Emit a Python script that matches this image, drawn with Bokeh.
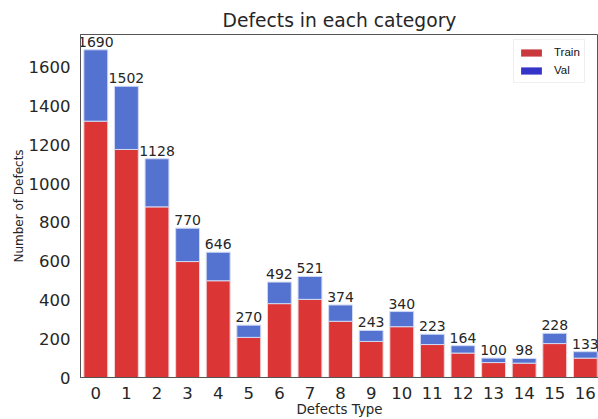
from bokeh.plotting import figure
from bokeh.models import ColumnDataSource, Legend, LegendItem, Range1d, FixedTicker
from bokeh.embed import file_html
from bokeh.resources import INLINE

categories = list(range(17))
totals = [1690, 1502, 1128, 770, 646, 270, 492, 521, 374, 243, 340, 223, 164, 100, 98, 228, 133]
train = [1322, 1176, 880, 598, 499, 207, 381, 403, 290, 186, 262, 170, 126, 77, 74, 175, 100]
val = [t - r for t, r in zip(totals, train)]
y_ticks = [0, 200, 400, 600, 800, 1000, 1200, 1400, 1600]

FONT = "DejaVu Sans"

src = ColumnDataSource(dict(x=categories, train=train, val=val, total=totals,
                            label=[str(t) for t in totals]))

p = figure(width=598, height=419, output_backend="svg", toolbar_location=None,
           x_range=Range1d(-0.5, 16.43), y_range=Range1d(0, 1769),
           min_border_left=80, min_border_right=0, min_border_top=34, min_border_bottom=41)

p.vbar(x="x", bottom=0, top="train", width=0.78, source=src,
       fill_color="#dc3535", line_color="#f3d6d6", line_width=1)
p.vbar(x="x", bottom="train", top="total", width=0.78, source=src,
       fill_color="#5473d0", line_color="#d0d9f4", line_width=1)

p.text(x="x", y="total", text="label", source=src, text_align="center",
       text_baseline="bottom", text_font_size="14px", text_color="#262626",
       text_font={"value": FONT}, y_offset=-3)

# legend proxies (zero-height, invisible bars)
proxy = ColumnDataSource(dict(x=categories[:1], top=[0]))
r_train = p.vbar(x="x", top="top", bottom="top", width=0.5, source=proxy,
                 fill_color="#c9383c", line_color=None)
r_val = p.vbar(x="x", top="top", bottom="top", width=0.5, source=proxy,
               fill_color="#3434c8", line_color=None)
legend = Legend(items=[LegendItem(label="Train", renderers=[r_train]),
                       LegendItem(label="Val", renderers=[r_val])],
                location=(433, 294), glyph_width=26, glyph_height=9,
                label_text_font="Liberation Sans", label_text_font_size="11.5px",
                label_text_color="#111111", spacing=2, padding=4, margin=0,
                border_line_color="#e0e0e0", label_standoff=10,
                label_height=16, label_text_baseline="middle")
p.add_layout(legend)

p.title.text = "Defects in each category"
p.title.align = "center"
p.title.text_font = FONT
p.title.text_font_size = "18.7px"
p.title.text_font_style = "normal"
p.title.text_color = "#262626"
p.title.standoff = 7

p.xgrid.visible = False
p.ygrid.visible = False
p.outline_line_color = "#555555"
p.outline_line_width = 1

p.xaxis.ticker = FixedTicker(ticks=categories)
p.yaxis.ticker = FixedTicker(ticks=y_ticks)
for ax in (p.xaxis[0], p.yaxis[0]):
    ax.major_tick_line_color = None
    ax.minor_tick_line_color = None
    ax.axis_line_color = "#555555"
    ax.major_label_text_font = FONT
    ax.major_label_text_font_size = "16.5px"
    ax.major_label_text_color = "#262626"
    ax.axis_label_text_font = FONT
    ax.axis_label_text_font_style = "normal"
    ax.axis_label_text_color = "#262626"
p.xaxis.axis_label = "Defects Type"
p.yaxis.axis_label = "Number of Defects"
p.xaxis.axis_label_text_font_size = "13.4px"
p.yaxis.axis_label_text_font_size = "12px"
p.xaxis.major_label_standoff = 3
p.yaxis.major_label_standoff = 4
p.xaxis.axis_label_standoff = 0
p.yaxis.axis_label_standoff = 0
p.background_fill_color = "white"
p.border_fill_color = "white"

open("out.html", "w").write(file_html(p, INLINE))
